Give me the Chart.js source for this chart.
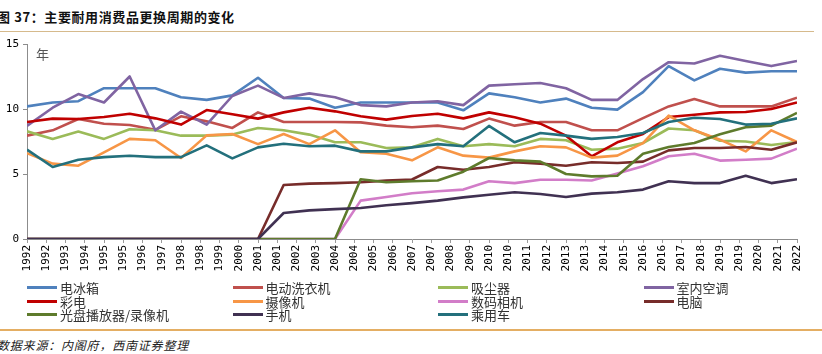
<!DOCTYPE html>
<html lang="zh-CN">
<head>
<meta charset="UTF-8">
<title>主要耐用消费品更换周期的变化</title>
<script src="https://cdn.jsdelivr.net/npm/chart.js@4"></script>
<style>
  html, body { margin: 0; padding: 0; background: #fff; }
  body { width: 822px; height: 354px; position: relative; overflow: hidden; font-family: "Noto Sans CJK SC", sans-serif; }
  #titre { position: absolute; left: -3px; top: 7px; font-size: 13px; font-weight: bold; letter-spacing: 0.6px; color: #111; white-space: nowrap; }
  .ligne-haut { position: absolute; left: 0; top: 31px; width: 814px; border-top: 1.5px solid #D6BA8C; }
  #boite { position: absolute; left: 0; top: 0; width: 822px; height: 285px; }
  #unite { position: absolute; left: 36px; top: 44px; font-size: 13px; color: #555; }
  #legende { position: absolute; left: 27px; top: 281px; display: grid; grid-template-columns: repeat(4, 205.5px); }
  .item { display: flex; align-items: center; height: 13.5px; font-size: 13px; color: #333; white-space: nowrap; }
  .trait { width: 30px; height: 3px; margin-right: 3px; flex: none; }
  .ligne-bas { position: absolute; left: 0; top: 329px; width: 822px; border-top: 2px solid #E4AE63; }
  #source { position: absolute; left: -3px; top: 336px; font-size: 12px; font-style: italic; color: #222; letter-spacing: 0.8px; white-space: nowrap; }
</style>
</head>
<body>
  <div id="titre">图 37：主要耐用消费品更换周期的变化</div>
  <div class="ligne-haut"></div>
  <div id="boite"><canvas id="graphique"></canvas></div>
  <div id="unite">年</div>
  <div id="legende"></div>
  <div class="ligne-bas"></div>
  <div id="source">数据来源：内阁府，西南证券整理</div>

<script>
// années (une valeur par an)
const annees = [1992, 1993, 1994, 1995, 1996, 1997, 1998, 1999, 2000, 2001, 2002,
  2003, 2004, 2005, 2006, 2007, 2008, 2009, 2010, 2011, 2012,
  2013, 2014, 2015, 2016, 2017, 2018, 2019, 2020, 2021, 2022];

// étiquettes de l'axe x telles qu'elles apparaissent
const etiquettesX = ['1992', '1992', '1993', '1994', '1995', '1995', '1996', '1997', '1998', '1998',
  '1999', '2000', '2001', '2001', '2002', '2003', '2004', '2004', '2005', '2006',
  '2007', '2007', '2008', '2009', '2010', '2010', '2011', '2012', '2013', '2013',
  '2014', '2015', '2016', '2016', '2017', '2018', '2019', '2019', '2020', '2021', '2022'];

const ticksY = [0, 5, 10, 15];

const noms = ['电冰箱', '电动洗衣机', '吸尘器', '室内空调', '彩电', '摄像机', '数码相机', '电脑',
  '光盘播放器/录像机', '手机', '乘用车'];

const couleurs = ['#4F81BD', '#C0504D', '#9BBB59', '#8064A2', '#C00000', '#F79646', '#D27DC8', '#772C2A',
  '#5E7B2C', '#403152', '#23707C'];

const refrigerateur = [10.2, 10.5, 10.6, 11.6, 11.6, 11.6, 10.9, 10.7, 11.05, 12.4, 10.85, 10.8, 10.1, 10.5, 10.5, 10.5,
  10.5, 9.9, 11.2, 10.9, 10.5, 10.8, 10.1, 9.95, 11.3, 13.3, 12.2, 13.1, 12.8, 12.9, 12.9];
const laveLinge = [7.95, 8.36, 9.23, 8.87, 8.77, 8.4, 9.44, 9.05, 8.54, 9.74, 9.0, 9.0, 9.0, 8.97, 8.72, 8.6,
  8.72, 8.46, 9.26, 8.72, 9.0, 9.0, 8.36, 8.36, 9.3, 10.2, 10.77, 10.2, 10.2, 10.2, 10.87];
const aspirateur = [8.28, 7.7, 8.26, 7.7, 8.44, 8.36, 7.95, 7.95, 8.03, 8.54, 8.36, 8.03, 7.44, 7.44, 7.0, 7.06,
  7.7, 7.13, 7.3, 7.13, 7.7, 7.6, 6.87, 6.95, 7.38, 8.5, 8.36, 7.56, 7.5, 7.23, 7.46];
const climatiseur = [8.7, 10.1, 11.15, 10.5, 12.5, 8.36, 9.8, 8.8, 11.0, 11.8, 10.85, 11.2, 10.9, 10.3, 10.2, 10.5,
  10.6, 10.3, 11.8, 11.9, 12.0, 11.6, 10.7, 10.7, 12.3, 13.6, 13.5, 14.1, 13.7, 13.3, 13.7];
const televiseur = [9.0, 9.26, 9.23, 9.38, 9.64, 9.28, 8.8, 9.92, 9.6, 9.26, 9.74, 10.1, 9.82, 9.44, 9.18, 9.46,
  9.64, 9.28, 9.74, 9.36, 8.87, 7.95, 6.36, 7.44, 8.08, 9.38, 9.56, 9.74, 9.77, 10.0, 10.5];
const camescope = [6.6, 5.8, 5.64, 6.67, 7.7, 7.6, 6.23, 7.97, 8.08, 7.3, 8.08, 7.3, 8.36, 6.67, 6.56, 6.05,
  7.05, 6.41, 6.26, 6.74, 7.13, 7.05, 6.26, 6.41, 7.38, 9.49, 8.36, 7.64, 6.74, 8.36, 7.46];
const appareilPhoto = [0, 0, 0, 0, 0, 0, 0, 0, 0, 0, 0, 0, 0, 2.95, 3.23, 3.52,
  3.67, 3.8, 4.44, 4.3, 4.56, 4.56, 4.5, 5.03, 5.6, 6.36, 6.56, 6.03, 6.1, 6.18, 6.95];
const ordinateur = [0, 0, 0, 0, 0, 0, 0, 0, 0, 0, 4.15, 4.26, 4.3, 4.36, 4.49, 4.58,
  5.54, 5.33, 5.54, 5.9, 5.8, 5.64, 5.9, 5.85, 5.95, 6.82, 7.0, 7.0, 7.08, 6.87, 7.44];
const lecteurDisque = [0, 0, 0, 0, 0, 0, 0, 0, 0, 0, 0, 0, 0, 4.6, 4.36, 4.44,
  4.5, 5.18, 6.23, 6.05, 5.95, 5.0, 4.82, 4.87, 6.56, 7.08, 7.38, 8.05, 8.6, 8.72, 9.7];
const telephone = [0, 0, 0, 0, 0, 0, 0, 0, 0, 0, 2.0, 2.2, 2.3, 2.38, 2.6, 2.76,
  2.95, 3.2, 3.41, 3.6, 3.46, 3.23, 3.49, 3.6, 3.8, 4.44, 4.3, 4.3, 4.87, 4.3, 4.6];
const voiture = [6.87, 5.54, 6.1, 6.3, 6.4, 6.3, 6.3, 7.2, 6.2, 7.05, 7.33, 7.13, 7.18, 6.74, 6.74, 7.05,
  7.3, 7.13, 8.7, 7.44, 8.15, 7.95, 7.7, 7.85, 8.15, 9.0, 9.33, 9.23, 8.8, 8.87, 9.28];

const series = [refrigerateur, laveLinge, aspirateur, climatiseur, televiseur, camescope,
  appareilPhoto, ordinateur, lecteurDisque, telephone, voiture];

// position des graduations x : 41 étiquettes réparties sur les 31 années
const pas = (annees.length - 1) / (etiquettesX.length - 1);

const datasets = series.map((valeurs, i) => ({
  label: noms[i],
  data: valeurs.map((v, j) => ({ x: annees[j] - annees[0], y: v })),
  borderColor: couleurs[i],
  backgroundColor: couleurs[i],
  borderWidth: 2.6,
  pointRadius: 0,
  tension: 0,
  fill: false,
  borderJoinStyle: 'round',
  order: -i   // la dernière série est dessinée au-dessus
}));

new Chart(document.getElementById('graphique'), {
  type: 'line',
  data: { datasets },
  options: {
    responsive: true,
    maintainAspectRatio: false,
    animation: false,
    layout: { padding: { top: 44, right: 25, left: 0, bottom: 0 } },
    plugins: { legend: { display: false }, tooltip: { enabled: false } },
    scales: {
      x: {
        type: 'linear',
        min: 0,
        max: annees.length - 1,
        afterBuildTicks: s => { s.ticks = etiquettesX.map((t, i) => ({ value: i * pas })); },
        afterFit: s => { s.height = 46; },
        ticks: {
          autoSkip: false, minRotation: 90, maxRotation: 90, padding: 2,
          color: '#000', font: { family: 'DejaVu Sans Mono', size: 11 },
          callback: (v, i) => etiquettesX[i]
        },
        grid: { drawOnChartArea: false, drawTicks: true, tickLength: 4, color: '#9a9a9a' },
        border: { color: '#8c8c8c', width: 1 }
      },
      y: {
        min: 0,
        max: 15,
        afterBuildTicks: s => { s.ticks = ticksY.map(v => ({ value: v })); },
        afterFit: s => { s.width = 27; },
        ticks: { color: '#000', padding: 4, font: { family: 'DejaVu Sans Mono', size: 11 } },
        grid: { drawOnChartArea: false, drawTicks: true, tickLength: 4, color: '#8c8c8c' },
        border: { color: '#8c8c8c', width: 1 }
      }
    }
  }
});

// légende en 4 colonnes
const legende = document.getElementById('legende');
legende.innerHTML = noms.map((n, i) => `
  <div class="item"><span class="trait" style="background:${couleurs[i]}"></span>${n}</div>
`).join('');
</script>
</body>
</html>
